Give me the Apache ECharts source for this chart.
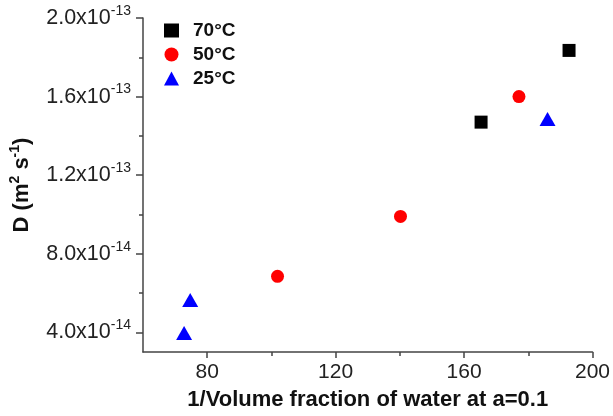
<!DOCTYPE html>
<html>
<head>
<meta charset="utf-8">
<script src="https://cdn.jsdelivr.net/npm/echarts@6/dist/echarts.min.js"></script>
<style>
html,body{margin:0;padding:0;background:#fff;}
#c{width:613px;height:416px;}
</style>
</head>
<body>
<div id="c"></div>
<script>
// Data
const seriesNames = ['70°C', '50°C', '25°C'];
const x70 = [165.3, 192.7];
const y70 = [1.47e-13, 1.835e-13];
const x50 = [101.9, 140.2, 177.1];
const y50 = [6.85e-14, 9.9e-14, 1.6e-13];
const x25 = [72.8, 74.7, 186.0];
const y25 = [3.97e-14, 5.65e-14, 1.486e-13];

const xMajorTicks = [80, 120, 160, 200];
const xMinorTicks = [100, 140, 180];
const yMajorTicks = [4e-14, 8e-14, 1.2e-13, 1.6e-13, 2.0e-13];
const yMinorTicks = [6e-14, 1.0e-13, 1.4e-13, 1.8e-13];

const FONT = '"Liberation Sans", Arial, sans-serif';
const AXIS_COLOR = '#444';

function pairs(xs, ys) { return xs.map((x, i) => [x, ys[i]]); }

function sciLabel(v) {
  const s = Number(v).toExponential(1);
  const parts = s.split('e');
  const exp = parseInt(parts[1], 10);
  return '{m|' + parts[0] + 'x10}{e|' + exp + '}';
}

const chart = echarts.init(document.getElementById('c'), null, {renderer: 'canvas'});

const xBase = {
  type: 'value', min: 60, max: 200, position: 'bottom',
  splitLine: {show: false}
};
const yBase = {
  type: 'value', min: 3e-14, max: 2e-13, position: 'left',
  splitLine: {show: false}
};

chart.setOption({
  animation: false,
  backgroundColor: '#fff',
  grid: {left: 141, right: 20, top: 18, bottom: 63, containLabel: false},
  legend: {
    orient: 'vertical',
    left: 159, top: 16,
    itemWidth: 15, itemHeight: 14,
    itemGap: 5,
    data: seriesNames,
    textStyle: {fontFamily: FONT, fontSize: 19, fontWeight: 'bold', color: '#111', padding: [0, 0, 0, 9]}
  },
  xAxis: [
    Object.assign({}, xBase, {
      name: '1/Volume fraction of water at a=0.1',
      nameLocation: 'middle',
      nameGap: 37,
      nameTextStyle: {fontFamily: FONT, fontSize: 22, fontWeight: 'bold', color: '#111'},
      axisLine: {show: true, lineStyle: {color: AXIS_COLOR, width: 1.5}},
      axisTick: {show: true, inside: false, length: 6, customValues: xMajorTicks, lineStyle: {color: AXIS_COLOR, width: 1.5}},
      axisLabel: {show: true, margin: 10, customValues: xMajorTicks, fontFamily: FONT, fontSize: 21, color: '#222'}
    }),
    Object.assign({}, xBase, {
      axisLine: {show: false},
      axisTick: {show: true, inside: false, length: 4, customValues: xMinorTicks, lineStyle: {color: AXIS_COLOR, width: 1.5}},
      axisLabel: {show: false}
    })
  ],
  yAxis: [
    Object.assign({}, yBase, {
      name: '{t|D (m}{s|2}{t| s}{s|-1}{t|)}',
      nameLocation: 'middle',
      nameGap: 107,
      nameRotate: 90,
      nameTextStyle: {
        rich: {
          t: {fontFamily: FONT, fontSize: 22, fontWeight: 'bold', color: '#111', lineHeight: 28},
          s: {fontFamily: FONT, fontSize: 14, fontWeight: 'bold', color: '#111', verticalAlign: 'top', lineHeight: 14}
        }
      },
      axisLine: {show: true, lineStyle: {color: AXIS_COLOR, width: 1.5}},
      axisTick: {show: true, inside: false, length: 7, customValues: yMajorTicks, lineStyle: {color: AXIS_COLOR, width: 1.5}},
      axisLabel: {
        show: true, margin: 12, customValues: yMajorTicks,
        formatter: sciLabel,
        rich: {
          m: {fontFamily: FONT, fontSize: 21.5, color: '#222', lineHeight: 28},
          e: {fontFamily: FONT, fontSize: 14, color: '#222', verticalAlign: 'top', lineHeight: 14}
        }
      }
    }),
    Object.assign({}, yBase, {
      axisLine: {show: false},
      axisTick: {show: true, inside: false, length: 4, customValues: yMinorTicks, lineStyle: {color: AXIS_COLOR, width: 1.5}},
      axisLabel: {show: false}
    })
  ],
  series: [
    {name: seriesNames[0], type: 'scatter', xAxisIndex: 0, yAxisIndex: 0, symbol: 'rect', symbolSize: 13,
     itemStyle: {color: '#000', opacity: 1}, data: pairs(x70, y70)},
    {name: seriesNames[1], type: 'scatter', xAxisIndex: 0, yAxisIndex: 0, symbol: 'circle', symbolSize: 13,
     itemStyle: {color: '#ff0000', opacity: 1}, data: pairs(x50, y50)},
    {name: seriesNames[2], type: 'scatter', xAxisIndex: 0, yAxisIndex: 0, symbol: 'triangle', symbolSize: [16, 14],
     itemStyle: {color: '#0000ff', opacity: 1}, data: pairs(x25, y25)}
  ]
});
</script>
</body>
</html>
